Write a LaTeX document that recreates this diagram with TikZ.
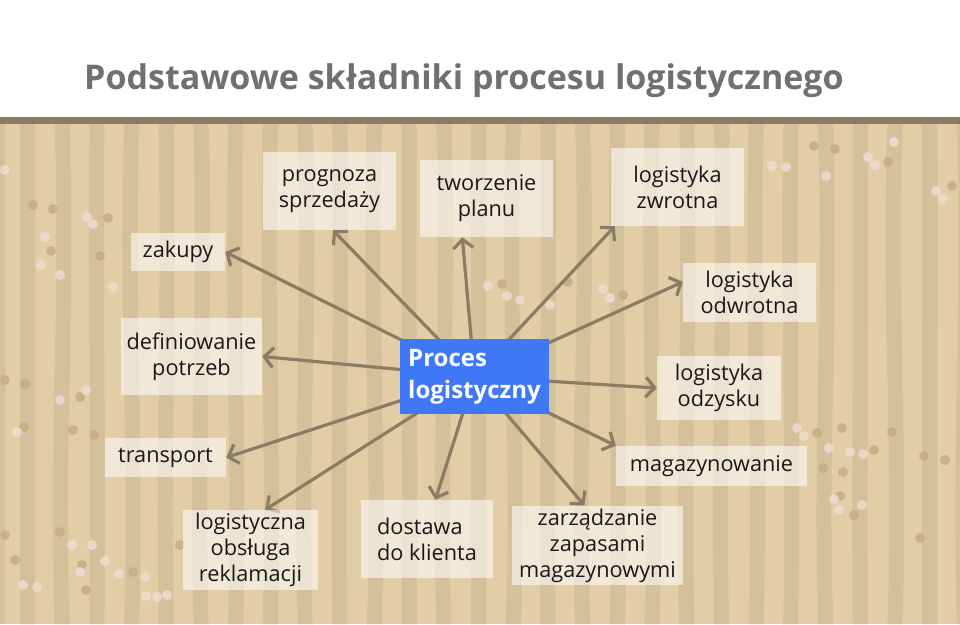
\documentclass[tikz,border=0pt]{standalone}
\usepackage{fontspec}
\setmainfont{Open Sans}
\usepackage{tikz}
\usetikzlibrary{arrows.meta}
\pgfdeclarelayer{backdrop}
\pgfdeclarelayer{background}
\pgfsetlayers{backdrop,background,main}
\definecolor{sand}{HTML}{E2CDA7}
\definecolor{sandstripe}{HTML}{D4C09B}
\definecolor{bark}{HTML}{8B7C64}
\definecolor{titlegray}{HTML}{707070}
\definecolor{procblue}{HTML}{3F78F5}
\definecolor{speckdark}{HTML}{C4AB82}
\definecolor{specklight}{HTML}{F0DDD3}
\tikzstyle{item}  = [fill=white, fill opacity=0.55, text opacity=1, text=black!90,
                     align=center, inner sep=3pt, font=\fontsize{21.7}{26}\selectfont]
\tikzstyle{arrow} = [line width=3.2pt, bark, -{Straight Barb[length=9pt,width=20pt]}]

\begin{document}
\begin{tikzpicture}[x=1pt, y=-1pt]
  \useasboundingbox (0,0) rectangle (960,624);

  \begin{pgfonlayer}{backdrop}
    %white header and the sand field below it
    \fill[white] (0,0) rectangle (960,124);
    \fill[sand] (0,120) rectangle (960,624);
    \foreach \i in {0,...,27}{
      \pgfmathsetmacro{\x}{20+34.7*\i}
      \pgfmathsetmacro{\a}{6*sin(97*\i)}
      \fill[sandstripe] (\x,124) .. controls (\x+\a,320) and (\x-\a,440) .. (\x,624)
        -- ++(15,0) .. controls (\x+15-\a,440) and (\x+15+\a,320) .. (\x+15,124) -- cycle;
    }
    \fill[sandstripe] (0,124) rectangle (5,624);
    %some specks
    \foreach \x/\y in {5/535,60/532,15/560,82/565,86/590,133/572,180/545,
                       817/433,842/428,892/432,823/468,843/472,840/496,854/515,874/450,
                       924/456,945/460,920/538,814/146,835/149,888/162,952/186,
                       502/284,568/282,623/295,33/205,53/209,51/251,100/256,108/218,
                       5/380,25/384,80/397,24/427,73/430,94/435}
      \fill[speckdark, opacity=0.8] (\x,\y) circle (5);
    \foreach \x/\y in {72/545,92/545,105/561,80/572,119/574,23/585,37/587,145/577,
                       146/596,157/597,167/595,797/428,804/436,829/448,850/452,863/454,
                       834/499,839/510,862/505,772/166,786/167,826/176,868/157,875/165,
                       894/142,936/191,943/199,488/286,507/296,520/300,550/305,603/289,
                       610/298,5/170,45/237,41/265,60/275,87/217,93/224,113/287,86/390,
                       60/400,17/432}
      \fill[specklight, opacity=0.8] (\x,\y) circle (5);
    \fill[bark] (0,117) rectangle (960,124);
  \end{pgfonlayer}

  %title
  \node[anchor=base, text=titlegray, font=\fontsize{34}{40}\selectfont\bfseries] (title)
    at (464,89) {Podstawowe składniki procesu logistycznego};

  %centre
  \node[fill=procblue, text=white, align=left, minimum width=149, minimum height=75, inner sep=2pt,
        font=\fontsize{24}{32}\selectfont\bfseries] (proc) at (474.5,376.5) {Proces\\logistyczny};

  %upper row
  \node[item, minimum width=133, minimum height=78] (prognoza) at (329.5,191) {prognoza\\sprzedaży};
  \node[item, minimum width=133, minimum height=77] (plan) at (486.5,198.5) {tworzenie\\planu};
  \node[item, minimum width=133, minimum height=78] (zwrotna) at (677.5,187) {logistyka\\zwrotna};

  %left side
  \node[item, minimum width=94, minimum height=38] (zakupy) at (178,252) {zakupy};
  \node[item, minimum width=141, minimum height=77] (potrzeby) at (191.5,356.5) {definiowanie\\potrzeb};
  \node[item, minimum width=121, minimum height=39] (transport) at (165.5,457.5) {transport};

  %right side
  \node[item, minimum width=133, minimum height=59] (odwrotna) at (749.5,292.5) {logistyka\\odwrotna};
  \node[item, minimum width=124, minimum height=64] (odzysk) at (719,388) {logistyka\\odzysku};
  \node[item, minimum width=191, minimum height=40] (magazyn) at (711.5,466) {magazynowanie};

  %lower row
  \node[item, minimum width=135, minimum height=80] (reklamacje) at (250.5,550) {logistyczna\\obsługa\\reklamacji};
  \node[item, align=left, minimum width=132, minimum height=78] (dostawa) at (427,539) {dostawa\\do klienta};
  \node[item, minimum width=171, minimum height=79] (zapasy) at (597.5,545.5) {zarządzanie\\zapasami\\magazynowymi};

  \begin{pgfonlayer}{background}
    \foreach \t/\a in {prognoza/275, plan/238, zwrotna/212, zakupy/east, odwrotna/171,
                       potrzeby/east, odzysk/west, transport/east, magazyn/north west,
                       reklamacje/70, dostawa/78, zapasy/108}
      \draw[arrow] (proc.center) -- (\t.\a);
  \end{pgfonlayer}
\end{tikzpicture}
\end{document}
